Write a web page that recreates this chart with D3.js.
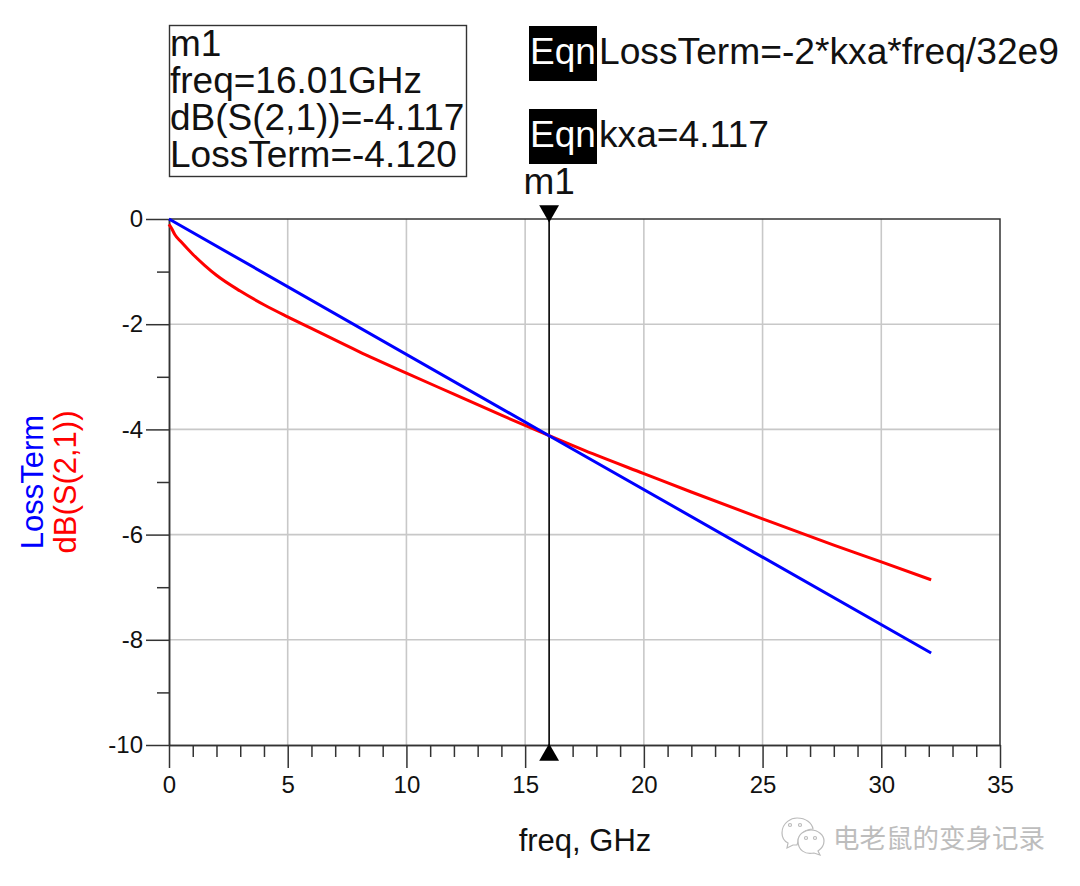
<!DOCTYPE html>
<html>
<head>
<meta charset="utf-8">
<style>
html, body { margin: 0; padding: 0; background: #fff; }
svg { display: block; }
text { font-family: "Liberation Sans", Arial, sans-serif; fill: #111; }
.tick text { font-size: 24px; }
</style>
<script src="https://cdnjs.cloudflare.com/ajax/libs/d3/7.8.5/d3.min.js"></script>
</head>
<body>
<svg width="1080" height="886"></svg>
<script>
const xTicks = [0, 5, 10, 15, 20, 25, 30, 35];
const xMinorTicks = [1, 2, 3, 4, 6, 7, 8, 9, 11, 12, 13, 14, 16, 17, 18, 19, 21, 22, 23, 24, 26, 27, 28, 29, 31, 32, 33, 34];
const yTicks = [0, -2, -4, -6, -8, -10];
const yMinorTicks = [-1, -3, -5, -7, -9];

const freqRed = [0, 0.1, 0.25, 0.5, 1, 1.5, 2, 3, 4, 5, 6, 8, 10, 12, 14, 16.01, 18, 20, 22, 25, 28, 30, 32.1];
const dbS21 = [-0.1, -0.17, -0.3, -0.43, -0.67, -0.88, -1.07, -1.37, -1.63, -1.86, -2.08, -2.52, -2.93, -3.33, -3.73, -4.117, -4.49, -4.84, -5.19, -5.7, -6.2, -6.52, -6.86];
const freqBlue = [0, 16.01, 32.1];
const lossTerm = [0, -4.12, -8.25];

const markerFreq = 16.01;
const markerLines = ['m1', 'freq=16.01GHz', 'dB(S(2,1))=-4.117', 'LossTerm=-4.120'];
const eqnLines = ['LossTerm=-2*kxa*freq/32e9', 'kxa=4.117'];
const watermark = '电老鼠的变身记录';

const left = 169, right = 1000, top_ = 219, bottom = 745;
const x = d3.scaleLinear().domain([0, 35]).range([left, right]);
const y = d3.scaleLinear().domain([0, -10]).range([top_, bottom]);

const svg = d3.select('svg');
const tickFormat = d => String(d);

// grid
svg.append('g').selectAll('line').data(xTicks.slice(1, -1)).join('line')
    .attr('x1', d => x(d)).attr('x2', d => x(d))
    .attr('y1', top_).attr('y2', bottom)
    .attr('stroke', '#c8c8c8').attr('stroke-width', 1.6);
svg.append('g').selectAll('line').data(yTicks.slice(1, -1)).join('line')
    .attr('x1', left).attr('x2', right)
    .attr('y1', d => y(d)).attr('y2', d => y(d))
    .attr('stroke', '#c8c8c8').attr('stroke-width', 1.6);

// axes
function styleAxis(g) {
    g.selectAll('path, line').attr('stroke', '#333').attr('stroke-width', 1.5);
}
svg.append('g').attr('transform', `translate(0,${bottom})`)
    .call(d3.axisBottom(x).tickValues(xMinorTicks).tickSize(12).tickFormat('').tickSizeOuter(0))
    .call(styleAxis);
svg.append('g').attr('transform', `translate(0,${bottom})`)
    .call(d3.axisBottom(x).tickValues(xTicks).tickSize(23).tickPadding(8).tickFormat(tickFormat).tickSizeOuter(0))
    .call(styleAxis);
svg.append('g').attr('transform', `translate(${left},0)`)
    .call(d3.axisLeft(y).tickValues(yMinorTicks).tickSize(12).tickFormat('').tickSizeOuter(0))
    .call(styleAxis);
svg.append('g').attr('transform', `translate(${left},0)`)
    .call(d3.axisLeft(y).tickValues(yTicks).tickSize(23).tickPadding(3).tickFormat(tickFormat).tickSizeOuter(0))
    .call(styleAxis);
svg.selectAll('.tick text').attr('fill', '#111').style('font-family', '"Liberation Sans", Arial, sans-serif');

// top and right border
svg.append('path')
    .attr('d', d3.line()([[left, top_], [right, top_], [right, bottom]]))
    .attr('fill', 'none').attr('stroke', '#333').attr('stroke-width', 1.5);

// marker line and triangles
const mx = x(markerFreq);
svg.append('line').attr('x1', mx).attr('x2', mx).attr('y1', top_).attr('y2', bottom)
    .attr('stroke', '#000').attr('stroke-width', 1.6);
const tri = d3.symbol().type(d3.symbolTriangle).size(170);
svg.append('path').attr('d', tri).attr('transform', `translate(${mx},${top_ - 8}) rotate(180)`).attr('fill', '#000');
svg.append('path').attr('d', tri).attr('transform', `translate(${mx},${bottom + 10})`).attr('fill', '#000');
svg.append('text').attr('x', mx).attr('y', 194).attr('text-anchor', 'middle')
    .attr('font-size', 37).text(markerLines[0]);

// curves
const line = d3.line().x(d => x(d[0])).y(d => y(d[1]));
svg.append('path').datum(d3.zip(freqRed, dbS21)).attr('d', line.curve(d3.curveMonotoneX))
    .attr('fill', 'none').attr('stroke', '#f00').attr('stroke-width', 3);
svg.append('path').datum(d3.zip(freqBlue, lossTerm)).attr('d', line.curve(d3.curveLinear))
    .attr('fill', 'none').attr('stroke', '#00f').attr('stroke-width', 3);

// x label
svg.append('text').attr('x', 585).attr('y', 851).attr('text-anchor', 'middle')
    .attr('font-size', 31).text('freq, GHz');

// y labels
svg.append('text').attr('transform', 'translate(43,482) rotate(-90)').attr('text-anchor', 'middle')
    .attr('font-size', 31).style('fill', '#00f').text('LossTerm');
svg.append('text').attr('transform', 'translate(76,482) rotate(-90)').attr('text-anchor', 'middle')
    .attr('font-size', 31).style('fill', '#f00').text('dB(S(2,1))');

// marker readout
svg.append('rect').attr('x', 169.5).attr('y', 25.5).attr('width', 297).attr('height', 151)
    .attr('fill', '#fff').attr('stroke', '#333').attr('stroke-width', 1.4);
svg.append('g').selectAll('text').data(markerLines).join('text')
    .attr('x', 170).attr('y', (d, i) => 56 + i * 37)
    .attr('font-size', 37).text(d => d);

// equations
const eqnTop = [26, 109];
const eqnHeight = [55, 55];
eqnLines.forEach((t, i) => {
    svg.append('rect').attr('x', 529).attr('y', eqnTop[i]).attr('width', 68).attr('height', eqnHeight[i]).attr('fill', '#000');
    svg.append('text').attr('x', 563).attr('y', eqnTop[i] + 38).attr('text-anchor', 'middle')
        .attr('font-size', 37).style('fill', '#fff').text('Eqn');
    svg.append('text').attr('x', 599).attr('y', eqnTop[i] + 38)
        .attr('font-size', 37.2).text(t);
});

// watermark
const mark = svg.append('g').attr('fill', '#fff').attr('stroke', '#bbb').attr('stroke-width', 1.2);
mark.append('path').attr('d', 'M782 833 C782 822 792 818 797 818 C806 818 812 823 813 829 C806 829 798 834 798 842 L797 845 L793 845 L787 848 L788 843 C784 841 782 838 782 833 Z');
mark.append('path').attr('d', 'M798 841 C798 834 805 830 811 830 C818 830 824 835 824 841 C824 846 821 849 818 851 L820 855 L814 853 C805 855 798 850 798 841 Z');
mark.selectAll('circle').data([[790, 825], [800, 825], [806, 838], [815, 838]]).join('circle')
    .attr('cx', d => d[0]).attr('cy', d => d[1]).attr('r', 1.5);
svg.append('text').attr('x', 833).attr('y', 848)
    .attr('font-size', 26.5).style('font-family', '"Noto Sans CJK SC"').style('fill', '#bdbdbd')
    .text(watermark);
</script>
</body>
</html>
